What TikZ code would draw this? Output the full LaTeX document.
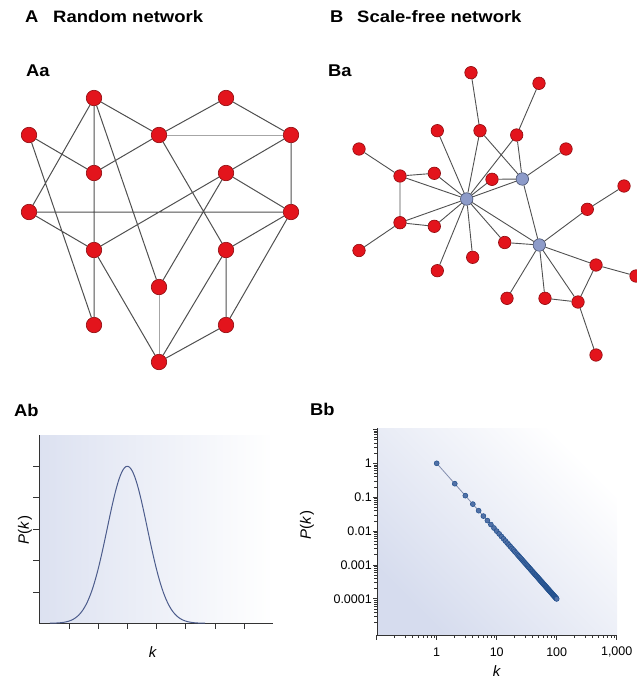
\documentclass[tikz,border=0pt]{standalone}
\usepackage{fontspec}
\setmainfont{Liberation Sans}
\definecolor{NodeRed}{HTML}{E3141C}
\definecolor{NodeRim}{HTML}{8E0A0E}
\definecolor{HubBlue}{HTML}{8D9BC9}
\definecolor{HubRim}{HTML}{46506E}
\definecolor{EdgeGrey}{HTML}{505050}
\definecolor{PlotShade}{HTML}{D6DCEE}
\definecolor{CurveBlue}{HTML}{4C5C8C}
\definecolor{DotBlue}{HTML}{1F4E8C}
\usetikzlibrary{calc}

\begin{document}
\begin{tikzpicture}[x=1pt,y=-1pt,
  panel/.style={font=\fontsize{17}{20}\selectfont\bfseries\addfontfeature{FakeStretch=1.08},anchor=west,inner sep=0pt},
  heading/.style={font=\fontsize{16.5}{20}\selectfont\bfseries\addfontfeature{FakeStretch=1.12},anchor=west,inner sep=0pt},
  rednode/.style={circle,draw=NodeRim,fill=NodeRed,inner sep=0pt,line width=0.6pt},
  hubnode/.style={circle,draw=HubRim,fill=HubBlue,inner sep=0pt,line width=0.6pt,minimum size=12.5pt},
  link/.style={draw=EdgeGrey,line width=1pt},
  faintlink/.style={draw=black!35,line width=0.8pt},
  axisline/.style={draw=black!80,line width=0.9pt},
  ticklabel/.style={font=\fontsize{12.5}{14}\selectfont,inner sep=0pt},
  axislabel/.style={font=\fontsize{15}{18}\selectfont,inner sep=0pt}]
  \useasboundingbox (0,0) rectangle (637,688);

  % panel titles
  \node[panel] (tA) at (25,17) {A};
  \node[heading] (tAname) at (53,17) {Random network};
  \node[panel] (tB) at (330,17) {B};
  \node[heading] (tBname) at (357,17) {Scale-free network};
  \node[panel] (tAa) at (26,71) {Aa};
  \node[panel] (tBa) at (328,71) {Ba};
  \node[panel] (tAb) at (14,410) {Ab};
  \node[panel] (tBb) at (310,409) {Bb};

  % Aa: random network
  \begin{scope}[every node/.append style={rednode,minimum size=15.5pt}]
    \node (a1) at (94,98) {};
    \node (a2) at (226,98) {};
    \node (a3) at (29,135) {};
    \node (a4) at (159,135) {};
    \node (a5) at (291,135) {};
    \node (a6) at (94,173) {};
    \node (a7) at (226,173) {};
    \node (a8) at (29,212) {};
    \node (a9) at (291,212) {};
    \node (a10) at (94,250) {};
    \node (a11) at (226,250) {};
    \node (a12) at (159,287) {};
    \node (a13) at (94,325) {};
    \node (a14) at (226,325) {};
    \node (a15) at (159,362) {};
  \end{scope}
  \draw[link] (a1) -- (a4) (a1) -- (a6) (a1) -- (a8) (a1) -- (a12)
    (a2) -- (a4) (a2) -- (a5) (a3) -- (a6) (a3) -- (a13)
    (a4) -- (a6) (a4) -- (a11) (a5) -- (a7) (a5) -- (a9)
    (a6) -- (a10) (a7) -- (a9) (a7) -- (a10) (a7) -- (a12)
    (a8) -- (a9) (a8) -- (a10) (a9) -- (a11) (a9) -- (a14)
    (a10) -- (a13) (a10) -- (a15) (a11) -- (a14) (a11) -- (a15)
    (a14) -- (a15);
  \draw[faintlink] (a4) -- (a5) (a12) -- (a15);

  % Ba: scale-free network
  \node[hubnode] (h1) at (466.7,199) {};
  \node[hubnode] (h2) at (522.3,179) {};
  \node[hubnode] (h3) at (539.3,245) {};
  \begin{scope}[every node/.append style={rednode,minimum size=12.5pt}]
    \node (s1) at (471,72.7) {};
    \node (s2) at (539,83.3) {};
    \node (s3) at (437.3,130.7) {};
    \node (s4) at (480,130.7) {};
    \node (s5) at (516.7,135) {};
    \node (s6) at (566,149) {};
    \node (s7) at (359,149) {};
    \node (s8) at (400,176) {};
    \node (s9) at (434.3,173.3) {};
    \node (s10) at (492,179.3) {};
    \node (s11) at (624,186) {};
    \node (s12) at (587.3,209.3) {};
    \node (s13) at (400,222.7) {};
    \node (s14) at (434.3,226.3) {};
    \node (s15) at (359,250.5) {};
    \node (s16) at (504.7,242.5) {};
    \node (s17) at (472.7,257.3) {};
    \node (s18) at (437.3,270.7) {};
    \node (s19) at (596,265) {};
    \node (s20) at (636,276) {};
    \node (s21) at (507,298.3) {};
    \node (s22) at (545,298.3) {};
    \node (s23) at (578,302) {};
    \node (s24) at (596,355) {};
  \end{scope}
  \draw[link,line width=0.9pt] (s1) -- (s4) (s4) -- (h1) (s4) -- (h2)
    (s2) -- (s5) (s5) -- (h1) (s5) -- (h2) (s6) -- (h2) (s3) -- (h1)
    (s7) -- (s8) (s8) -- (s9) (s8) -- (h1) (s9) -- (h1) (s8) -- (s13)
    (s10) -- (h1) (s10) -- (h2) (h1) -- (h2)
    (s13) -- (h1) (s13) -- (s14) (s14) -- (h1) (s13) -- (s15)
    (s16) -- (h1) (s16) -- (h3) (h1) -- (h3) (s17) -- (h1) (s18) -- (h1)
    (h2) -- (h3) (h3) -- (s12) (s12) -- (s11)
    (h3) -- (s19) (s19) -- (s20) (h3) -- (s21) (h3) -- (s22) (h3) -- (s23)
    (s22) -- (s23) (s19) -- (s23) (s23) -- (s24);

  % Ab: Poisson-like degree distribution
  \shade[left color=PlotShade!85,right color=white] (39.3,435) rectangle (273.3,623.3);
  \draw[axisline] (39.3,435) -- (39.3,623.3) -- (273.3,623.3);
  \foreach \ty in {466,497.5,529,560.5,592}
    \draw[axisline] (39.3,\ty) -- (33.3,\ty);
  \foreach \tx in {0,...,6}
    \draw[axisline] ({69+29.2*\tx},623.3) -- ({69+29.2*\tx},628.8);
  \draw[CurveBlue,line width=1pt] plot[domain=50:205,samples=120]
    (\x,{623.3-157*exp(-((\x-127.3)^2)/800)});
  \node[axislabel,rotate=90] (pkA) at (25,530) {\textit{P}(\textit{k})};
  \node[axislabel] (kA) at (153,652) {\textit{k}};

  % Bb: power-law degree distribution
  \shade[shading=axis,top color=white,bottom color=PlotShade,shading angle=-45] (377,428) rectangle (617,635);
  \draw[axisline] (377,428) -- (377,635) -- (617,635);
  \foreach \d in {0,...,5} {
    \draw[axisline] (377,{429.4+33.9*\d}) -- (372.5,{429.4+33.9*\d});
    \foreach \m in {2,...,9}
      \draw[axisline,line width=0.7pt] (377,{429.4+33.9*\d+33.9*(1-log10(\m))}) -- (374,{429.4+33.9*\d+33.9*(1-log10(\m))});
  }
  \foreach \d in {0,...,3} {
    \draw[axisline] ({376.7+60*\d},635) -- ({376.7+60*\d},640);
    \foreach \m in {2,...,9}
      \draw[axisline,line width=0.7pt] ({376.7+60*\d+60*log10(\m)},635) -- ({376.7+60*\d+60*log10(\m)},638.3);
  }
  \draw[axisline] (616.7,635) -- (616.7,640);
  \foreach \lab [count=\i from 0] in {1,0.1,0.01,0.001,0.0001}
    \node[ticklabel,anchor=east] at (372,{463.3+33.9*\i}) {\lab};
  \foreach \lab [count=\i from 0] in {1,10,100,{1,000}}
    \node[ticklabel] at ({436.7+60*\i},652) {\lab};
  \draw[CurveBlue!70,line width=0.8pt] (436.7,463.3) -- (556.7,599);
  \foreach \k in {1,...,100}
    \draw[draw=DotBlue,fill=DotBlue!55!HubBlue,line width=0.5pt]
      ({436.7+60*log10(\k)},{463.3+67.8*log10(\k)}) circle (2.5pt);
  \node[axislabel,rotate=90] (pkB) at (307,525) {\textit{P}(\textit{k})};
  \node[axislabel] (kB) at (497,671) {\textit{k}};
\end{tikzpicture}
\end{document}
